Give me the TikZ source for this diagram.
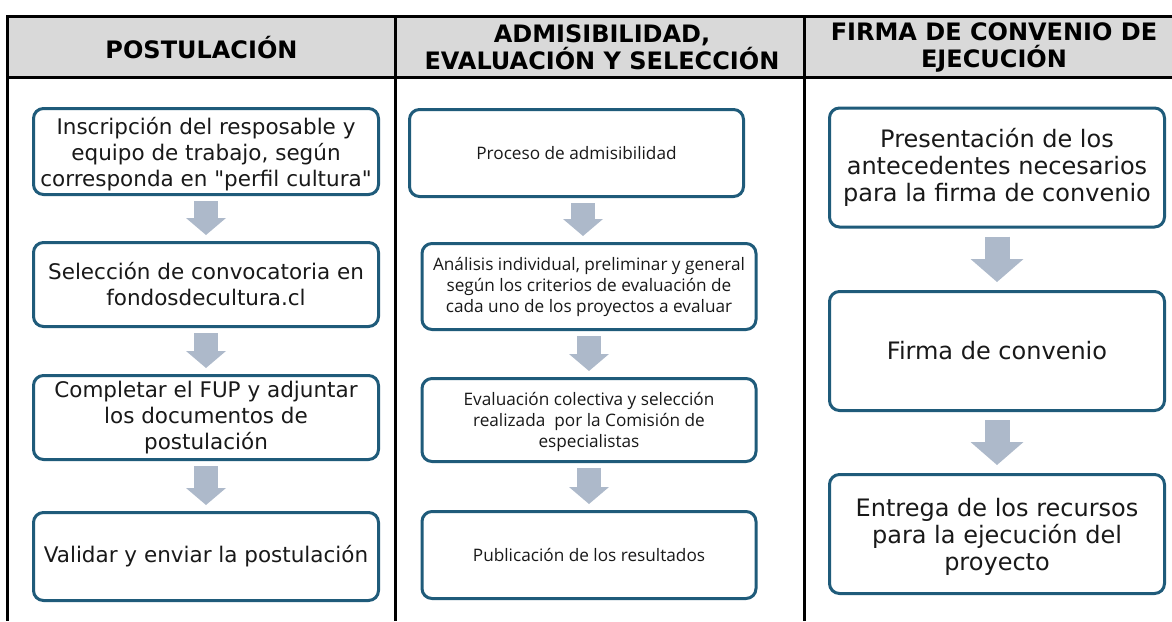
\documentclass[tikz,border=0pt]{standalone}
\usepackage{fontspec}
\newfontfamily\verdanafont{DejaVu Sans}
\newfontfamily\aptosfont{Open Sans}
\usetikzlibrary{arrows.meta}

\definecolor{boxline}{HTML}{1F5B7A}
\definecolor{flecha}{HTML}{ADB9CA}
\definecolor{cabecera}{HTML}{D9D9D9}

\begin{document}
\begin{tikzpicture}[x=1pt, y=-1pt]
	\tikzstyle{Title} = [align=center, font=\verdanafont\fontsize{24}{27}\selectfont\bfseries]
	\tikzstyle{Box} = [rectangle, rounded corners=10pt, draw=boxline, line width=3pt, fill=white, align=center, text=black!90, minimum width=345pt]
	\tikzstyle{BoxL} = [Box, font=\verdanafont\fontsize{21.5}{26}\selectfont]
	\tikzstyle{BoxM} = [Box, minimum width=334pt, font=\aptosfont\fontsize{17.2}{21}\selectfont]
	\tikzstyle{BoxR} = [Box, minimum width=335pt, minimum height=119pt, font=\verdanafont\fontsize{24}{27}\selectfont]
	\tikzstyle{arrow} = [flecha, line width=24pt, -{Triangle[width=40pt,length=17pt,line width=0pt]}, shorten <=5pt, shorten >=6pt]
	\tikzstyle{bigarrow} = [flecha, line width=25pt, -{Triangle[width=53pt,length=23pt,line width=0pt]}, shorten <=8pt, shorten >=8pt]

	\useasboundingbox (0,0) rectangle (1172,621);

	% tabla
	\fill [cabecera] (7.5,16.5) rectangle (1172,77.5);
	\draw [line width=3pt] (6,16.5) -- (1172,16.5);
	\draw [line width=3pt] (6,77.5) -- (1172,77.5);
	\draw [line width=3pt] (7.5,15) -- (7.5,621);
	\draw [line width=3pt] (395.5,15) -- (395.5,621);
	\draw [line width=3pt] (804.5,15) -- (804.5,621);

	\node (t1) [Title] at (201.5,47.5) {POSTULACIÓN};
	\node (t2) [Title] at (602,47) {ADMISIBILIDAD,\\EVALUACIÓN Y SELECCIÓN};
	\node (t3) [Title] at (994,47) {FIRMA DE CONVENIO DE\\EJECUCIÓN};

	% postulacion
	\node (l1) [BoxL, minimum height=86pt, text depth=-16pt] at (206,151.5) {Inscripción del resposable y\\equipo de trabajo, según\\corresponda en "perfil cultura"};
	\node (l2) [BoxL, minimum height=84pt] at (206,284.5) {Selección de convocatoria en\\fondosdecultura.cl};
	\node (l3) [BoxL, minimum height=84pt] at (206,417.5) {Completar el FUP y adjuntar\\los documentos de\\postulación};
	\node (l4) [BoxL, minimum height=88pt] at (206,556.5) {Validar y enviar la postulación};

	% admisibilidad
	\node (m1) [BoxM, minimum height=87pt] at (576.5,153) {Proceso de admisibilidad};
	\node (m2) [BoxM, minimum height=86pt] at (589,286.5) {Análisis individual, preliminar y general\\según los criterios de evaluación de\\cada uno de los proyectos a evaluar};
	\node (m3) [BoxM, minimum height=83pt, text depth=-11pt] at (589,420) {Evaluación colectiva y selección\\realizada \ por la Comisión de\\especialistas};
	\node (m4) [BoxM, minimum height=87pt] at (589,555) {Publicación de los resultados};

	% firma
	\node (r1) [BoxR] at (997,167.5) {Presentación de los\\antecedentes necesarios\\para la firma de convenio};
	\node (r2) [BoxR] at (997,351) {Firma de convenio};
	\node (r3) [BoxR, text depth=-2.5pt] at (997,534) {Entrega de los recursos\\para la ejecución del\\proyecto};

	\draw [arrow] (l1) -- (l2);
	\draw [arrow] (l2) -- (l3);
	\draw [arrow] (l3) -- (l4);
	\draw [arrow] ([xshift=6.5pt]m1.south) -- ([xshift=-6pt]m2.north);
	\draw [arrow] (m2) -- (m3);
	\draw [arrow] (m3) -- (m4);
	\draw [bigarrow] (r1) -- (r2);
	\draw [bigarrow] (r2) -- (r3);
\end{tikzpicture}
\end{document}
